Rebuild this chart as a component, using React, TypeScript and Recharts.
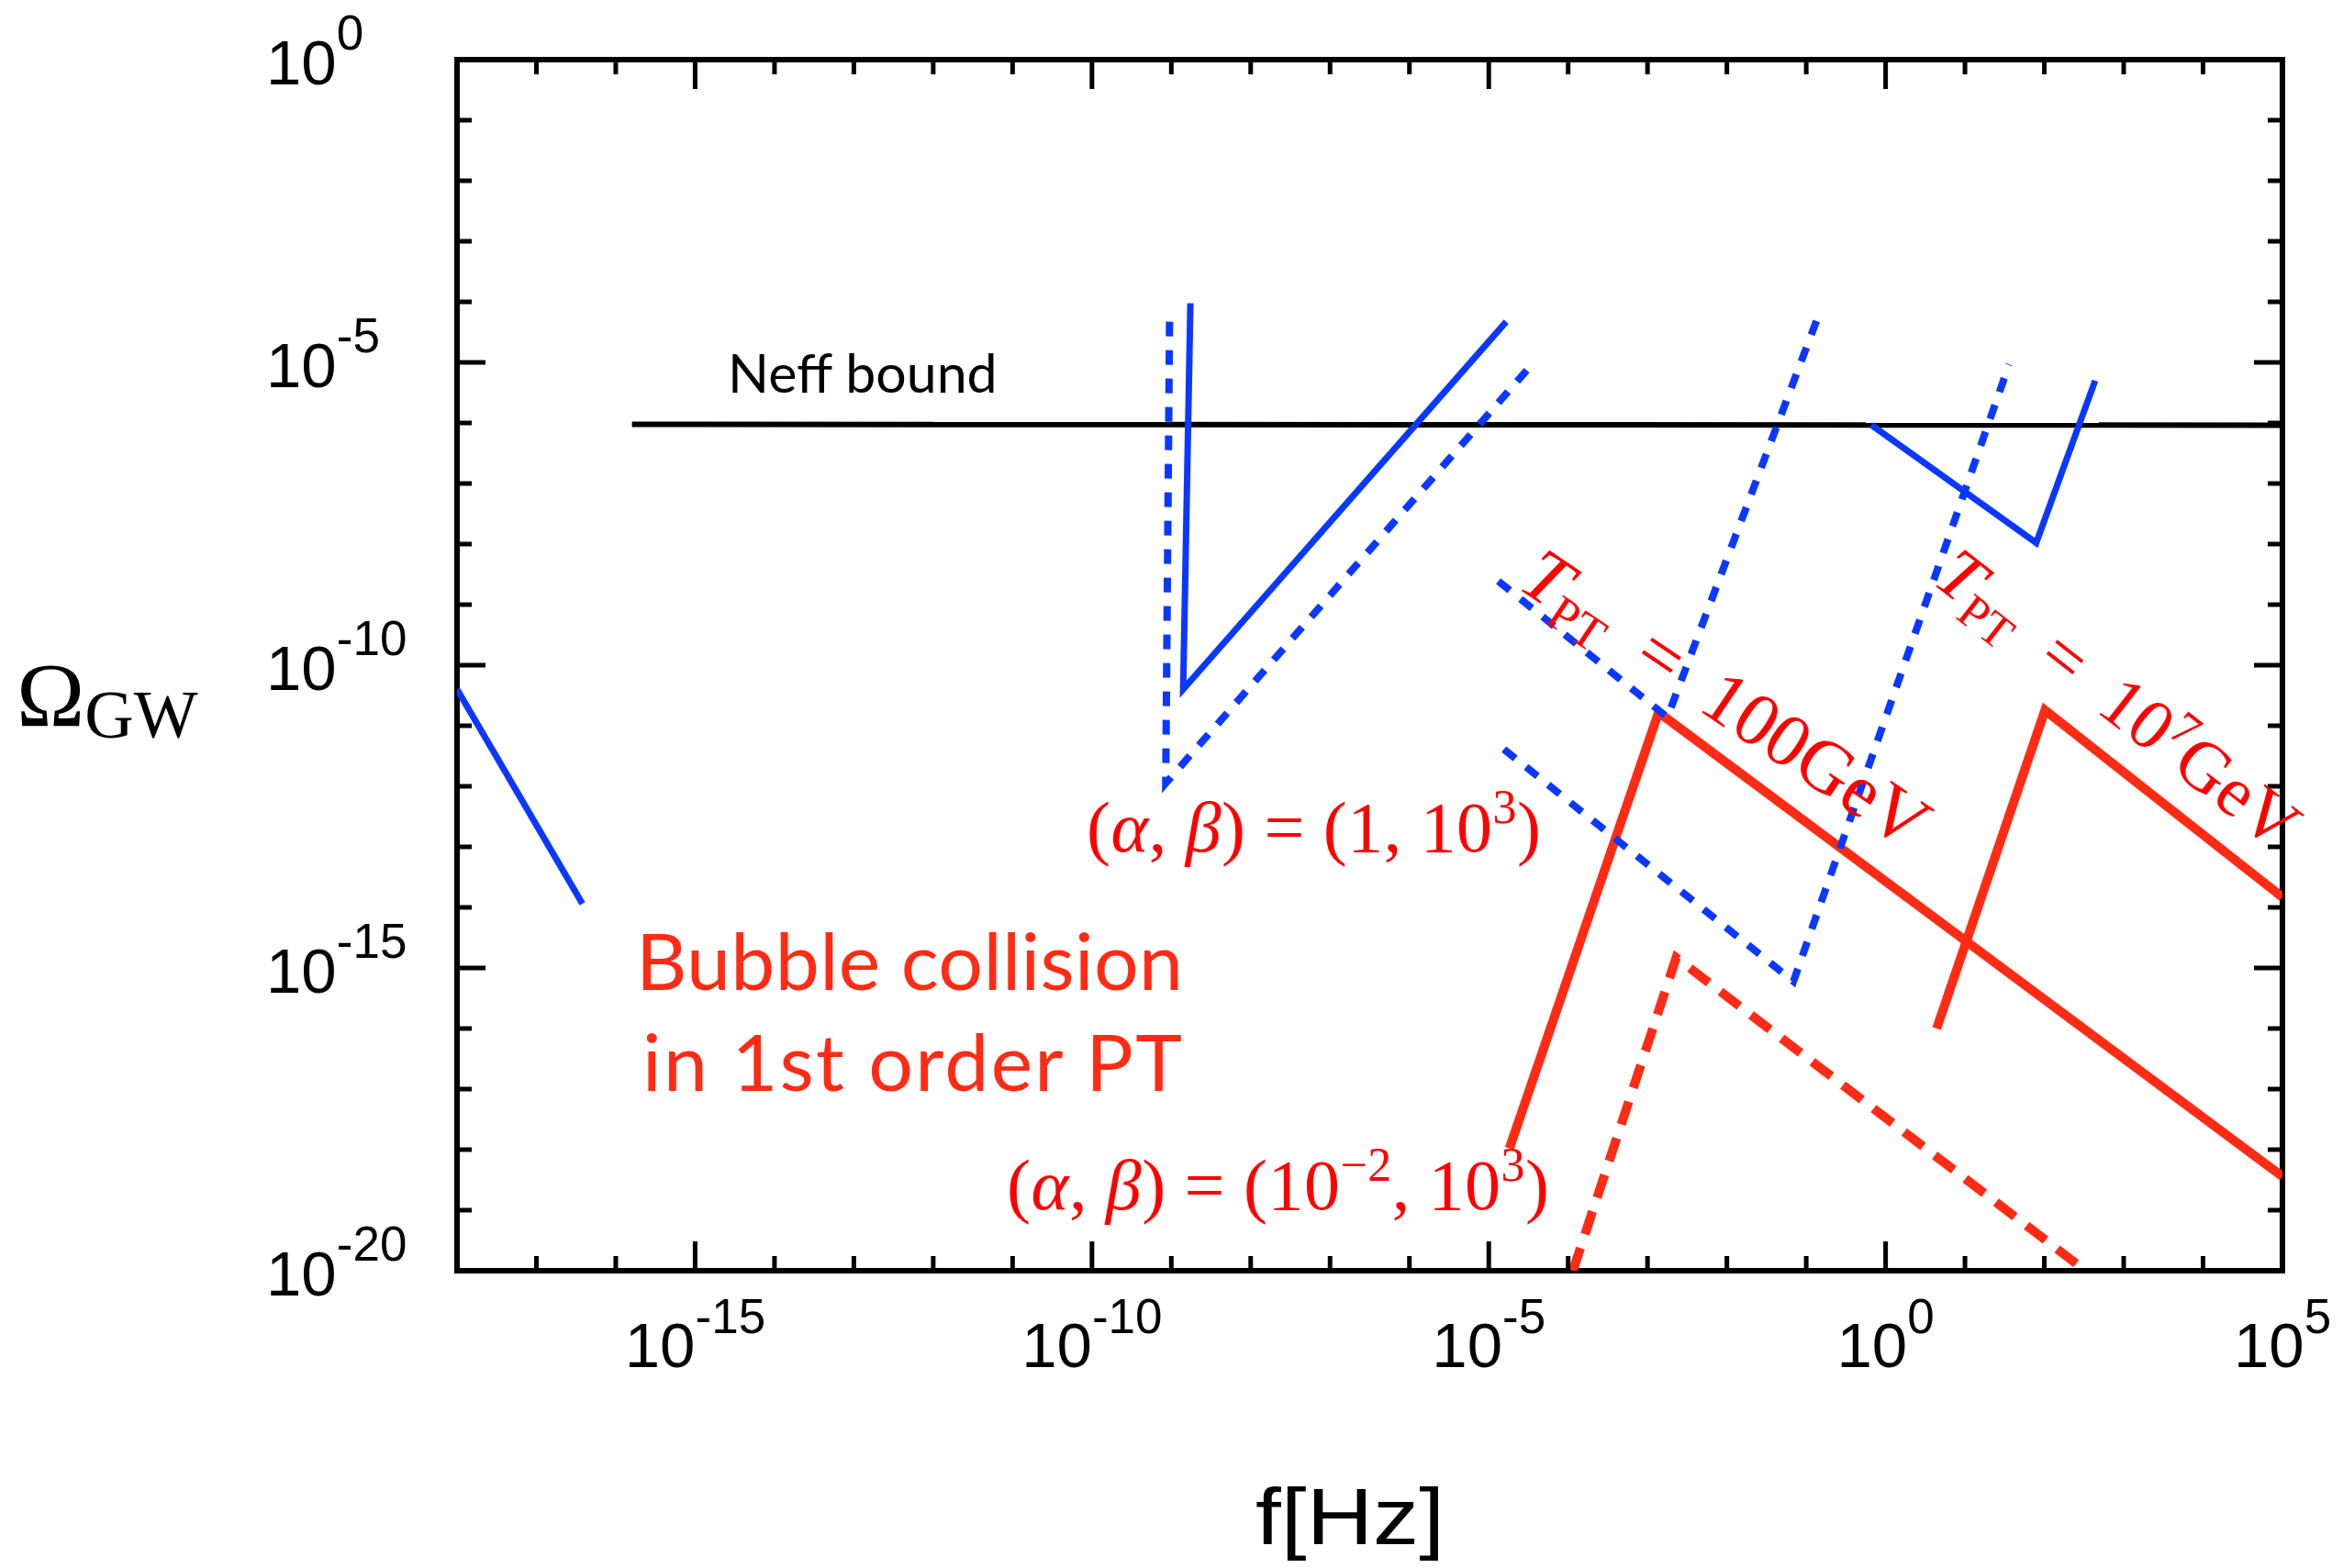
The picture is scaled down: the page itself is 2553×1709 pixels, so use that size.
import React from 'react';
import { ComposedChart, Line, XAxis, YAxis, ReferenceArea } from 'recharts';

// ---------- data (frequency f [Hz], Omega_GW) ----------
const neffBound = [
  { x: 1.6e-16, y: 9.5e-7 },
  { x: 1e5, y: 9.2e-7 },
];
const blueSolidLow = [
  { x: 1e-18, y: 4e-11 },
  { x: 3.8e-17, y: 1.15e-14 },
];
const blueSolidMid = [
  { x: 1.74e-9, y: 9.5e-5 },
  { x: 1.41e-9, y: 4e-11 },
  { x: 1.66e-5, y: 4.7e-5 },
];
const blueDottedMid = [
  { x: 9.5e-10, y: 4.7e-5 },
  { x: 8.5e-10, y: 1.12e-12 },
  { x: 3.4e-5, y: 8.9e-6 },
];
const blueDottedA = [
  { x: 1.32e-5, y: 2.45e-9 },
  { x: 1.78e-3, y: 1.38e-11 },
  { x: 0.145, y: 6.3e-5 },
];
const blueDottedB = [
  { x: 1.55e-5, y: 4.1e-12 },
  { x: 0.069, y: 6.0e-16 },
  { x: 36, y: 9.3e-6 },
];
const blueSolidHigh = [
  { x: 0.66, y: 9.3e-7 },
  { x: 79, y: 1.05e-8 },
  { x: 437, y: 5e-6 },
];
const red100GeV = [
  { x: 1.82e-5, y: 1.05e-18 },
  { x: 1.38e-3, y: 1.66e-11 },
  { x: 1e5, y: 3.6e-19 },
];
const red1e7GeV = [
  { x: 4.4, y: 1e-16 },
  { x: 102, y: 1.8e-11 },
  { x: 1e5, y: 1.48e-14 },
];
const redDashedWeak = [
  { x: 1.15e-4, y: 1e-20 },
  { x: 2.3e-3, y: 1.48e-15 },
  { x: 331, y: 1e-20 },
];

// ---------- ticks ----------
const xTicks = [
  1e-18, 1e-17, 1e-16, 1e-15, 1e-14, 1e-13, 1e-12, 1e-11, 1e-10, 1e-9, 1e-8, 1e-7,
  1e-6, 1e-5, 1e-4, 1e-3, 1e-2, 1e-1, 1, 1e1, 1e2, 1e3, 1e4, 1e5,
];
const xMajorTicks = [1e-15, 1e-10, 1e-5, 1, 1e5];
const xMajorLabels = ['-15', '-10', '-5', '0', '5'];
const yTicks = [
  1, 1e-1, 1e-2, 1e-3, 1e-4, 1e-5, 1e-6, 1e-7, 1e-8, 1e-9, 1e-10, 1e-11, 1e-12,
  1e-13, 1e-14, 1e-15, 1e-16, 1e-17, 1e-18, 1e-19, 1e-20,
];
const yMajorTicks = [1, 1e-5, 1e-10, 1e-15, 1e-20];
const yMajorLabels = ['0', '-5', '-10', '-15', '-20'];

// ---------- layout / style (page coordinates; wrapper cancels body margin) ----------
const W = 2553;
const H = 1701;
const OVERLAY_H = 1709;
const MARGIN_TOP = 65;
const MARGIN_RIGHT = 66;
const Y_AXIS_W = 498;
const X_AXIS_H = 316;
const PLOT_W = W - Y_AXIS_W - MARGIN_RIGHT;
const PLOT_H = H - MARGIN_TOP - X_AXIS_H;

const BLUE = '#0b38ff';
const RED = '#ff2b14';
const MATH_RED = '#ff0000';
const SANS = "'Liberation Sans', Arial, sans-serif";
const SERIF = "'Liberation Serif', 'Times New Roman', serif";
const GILL = "Lato, 'Open Sans', sans-serif";

const majorIndex = (v: number, majors: number[]) =>
  majors.findIndex((m) => Math.abs(Math.log10(m) - Math.log10(v)) < 1e-6);

const XTick = (props: any) => {
  const { x, y, payload } = props;
  const idx = majorIndex(payload.value, xMajorTicks);
  const len = idx >= 0 ? 32 : 16;
  return (
    <g>
      <line x1={x} x2={x} y1={y} y2={y - len} stroke="#000" strokeWidth={5} />
      <line x1={x} x2={x} y1={y - PLOT_H} y2={y - PLOT_H + len} stroke="#000" strokeWidth={5} />
      {idx >= 0 && (
        <text x={x} y={y + 105} textAnchor="middle" fontFamily={SANS} fontSize={69} fill="#000">
          10
          <tspan dy={-37} fontSize={53}>
            {xMajorLabels[idx]}
          </tspan>
        </text>
      )}
    </g>
  );
};

const YTick = (props: any) => {
  const { x, y, payload } = props;
  const idx = majorIndex(payload.value, yMajorTicks);
  const len = idx >= 0 ? 31 : 16;
  return (
    <g>
      <line x1={x} x2={x + len} y1={y} y2={y} stroke="#000" strokeWidth={5} />
      <line x1={x + PLOT_W} x2={x + PLOT_W - len} y1={y} y2={y} stroke="#000" strokeWidth={5} />
      {idx >= 0 && (
        <text x={x - 208} y={y + 27} fontFamily={SANS} fontSize={69} fill="#000">
          10
          <tspan dy={-38} fontSize={53}>
            {yMajorLabels[idx]}
          </tspan>
        </text>
      )}
    </g>
  );
};

const lineCommon = {
  dataKey: 'y',
  type: 'linear' as const,
  dot: false,
  activeDot: false,
  isAnimationActive: false,
  strokeLinejoin: 'miter' as const,
  strokeLinecap: 'butt' as const,
};

export default function App() {
  return (
    <div style={{ position: 'relative', width: W, height: H, margin: '-8px 0 0 -8px' }}>
      <ComposedChart
        width={W}
        height={H}
        margin={{ top: MARGIN_TOP, right: MARGIN_RIGHT, left: 0, bottom: 0 }}
      >
        <XAxis
          dataKey="x"
          type="number"
          scale="log"
          domain={[1e-18, 1e5]}
          ticks={xTicks}
          interval={0}
          allowDataOverflow
          axisLine={false}
          tickLine={false}
          tickSize={0}
          tickMargin={0}
          height={X_AXIS_H}
          tick={<XTick />}
        />
        <YAxis
          dataKey="y"
          type="number"
          scale="log"
          domain={[1e-20, 1]}
          ticks={yTicks}
          interval={0}
          allowDataOverflow
          axisLine={false}
          tickLine={false}
          tickSize={0}
          tickMargin={0}
          width={Y_AXIS_W}
          tick={<YTick />}
        />
        <ReferenceArea
          x1={1e-18}
          x2={1e5}
          y1={1e-20}
          y2={1}
          fill="none"
          fillOpacity={0}
          stroke="#000"
          strokeWidth={6}
          ifOverflow="visible"
        />
        <Line {...lineCommon} data={neffBound} stroke="#000" strokeWidth={6} />
        <Line {...lineCommon} data={blueSolidLow} stroke={BLUE} strokeWidth={7} />
        <Line {...lineCommon} data={blueSolidMid} stroke={BLUE} strokeWidth={7} />
        <Line {...lineCommon} data={blueDottedMid} stroke={BLUE} strokeWidth={8} strokeDasharray="16 15" />
        <Line {...lineCommon} data={red100GeV} stroke={RED} strokeWidth={10} />
        <Line {...lineCommon} data={red1e7GeV} stroke={RED} strokeWidth={10} />
        <Line {...lineCommon} data={redDashedWeak} stroke={RED} strokeWidth={10} strokeDasharray="26 16" />
        <Line {...lineCommon} data={blueDottedA} stroke={BLUE} strokeWidth={8} strokeDasharray="16 15" />
        <Line {...lineCommon} data={blueDottedB} stroke={BLUE} strokeWidth={8} strokeDasharray="16 15" />
        <Line {...lineCommon} data={blueSolidHigh} stroke={BLUE} strokeWidth={7} />
      </ComposedChart>
      <svg
        width={W}
        height={OVERLAY_H}
        style={{ position: 'absolute', left: 0, top: 0, pointerEvents: 'none', overflow: 'visible' }}
      >
        {/* axis titles */}
        <text x={18} y={791} fontFamily={SERIF} fontSize={100} fill="#000">
          Ω
          <tspan fontSize={74} dy={13}>
            GW
          </tspan>
        </text>
        <text
          x={1471}
          y={1683}
          textAnchor="middle"
          fontFamily={SANS}
          fontSize={88}
          fill="#000"
          textLength={206}
          lengthAdjust="spacingAndGlyphs"
        >
          f[Hz]
        </text>

        {/* annotations */}
        <text x={793} y={428} fontFamily={GILL} fontSize={59} fill="#000">
          Neff bound
        </text>
        <text x={693} y={1079} fontFamily={GILL} fontSize={86} fill={RED} textLength={596} lengthAdjust="spacing">
          Bubble collision
        </text>
        <text x={700} y={1189} fontFamily={GILL} fontSize={86} fill={RED} textLength={588} lengthAdjust="spacing">
          in 1st order PT
        </text>

        <text x={1184} y={928} fontFamily={SERIF} fontSize={78} fill={MATH_RED} textLength={495} lengthAdjust="spacing">
          {'('}
          <tspan fontStyle="italic">α</tspan>
          {', '}
          <tspan fontStyle="italic">β</tspan>
          {') = (1, 10'}
          <tspan fontSize={52} dy={-31}>
            3
          </tspan>
          <tspan dy={31}>)</tspan>
        </text>
        <text x={1097} y={1318} fontFamily={SERIF} fontSize={78} fill={MATH_RED} textLength={591} lengthAdjust="spacing">
          {'('}
          <tspan fontStyle="italic">α</tspan>
          {', '}
          <tspan fontStyle="italic">β</tspan>
          {') = (10'}
          <tspan fontSize={52} dy={-31}>
            {'\u22122'}
          </tspan>
          <tspan dy={31}>{', 10'}</tspan>
          <tspan fontSize={52} dy={-31}>
            3
          </tspan>
          <tspan dy={31}>)</tspan>
        </text>

        <text
          x={1652}
          y={640}
          transform="rotate(34 1652 640)"
          fontFamily={SERIF}
          fontSize={82}
          fill={MATH_RED}
        >
          <tspan fontStyle="italic">T</tspan>
          <tspan fontSize={54} dy={14}>
            PT
          </tspan>
          <tspan dy={-14}>{'\u2002=\u2002100GeV'}</tspan>
        </text>
        <text
          x={2104}
          y={635}
          transform="rotate(38 2104 635)"
          fontFamily={SERIF}
          fontSize={78}
          fill={MATH_RED}
        >
          <tspan fontStyle="italic">T</tspan>
          <tspan fontSize={52} dy={14}>
            PT
          </tspan>
          <tspan dy={-14}>{'\u2002=\u200210'}</tspan>
          <tspan fontSize={52} dy={-28}>
            7
          </tspan>
          <tspan dy={28}>GeV</tspan>
        </text>
      </svg>
    </div>
  );
}
